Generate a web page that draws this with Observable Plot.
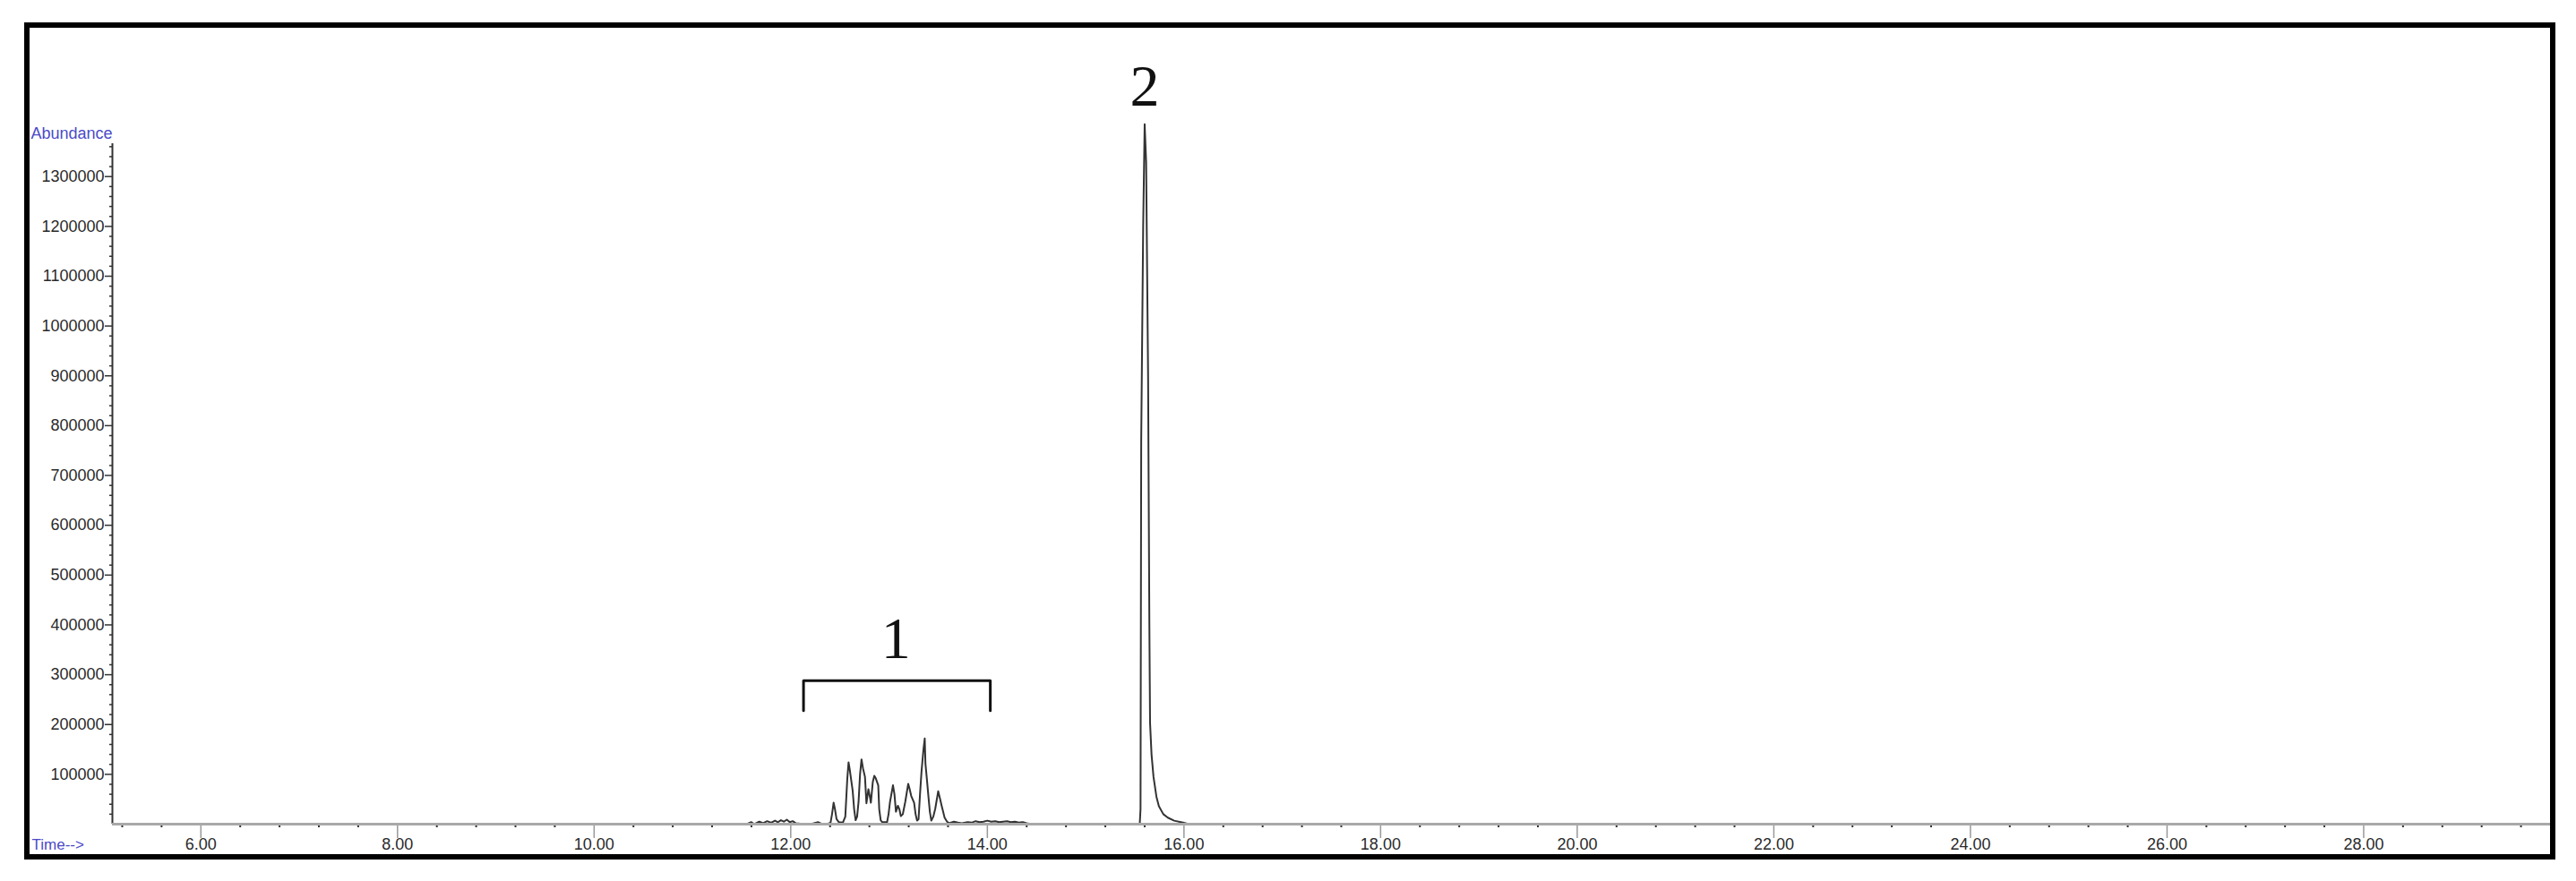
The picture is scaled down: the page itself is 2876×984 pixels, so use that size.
<!DOCTYPE html>
<html>
<head>
<meta charset="utf-8">
<script src="https://cdn.jsdelivr.net/npm/d3@7"></script>
<script src="https://cdn.jsdelivr.net/npm/@observablehq/plot@0.6"></script>
<style>
  html, body { margin: 0; padding: 0; background: #fff; }
  #wrap { position: relative; width: 2876px; height: 984px; overflow: hidden; }
  #chart { position: absolute; left: 0; top: 0; }
  #border { position: absolute; left: 27px; top: 25px; width: 2826px; height: 935px;
            box-sizing: border-box; border: 6px solid #000; pointer-events: none; }
</style>
</head>
<body>
<div id="wrap"><div id="chart"></div><div id="border"></div></div>
<script>
// ---- data (retention time in minutes, abundance) ----
const noiseBeforeTime = [11.55, 11.60, 11.63, 11.68, 11.72, 11.76, 11.80, 11.84, 11.87, 11.90, 11.93, 11.96, 11.99, 12.02, 12.05, 12.10, 12.20, 12.28, 12.32, 12.38];
const noiseBeforeAbund = [0, 4000, 0, 5000, 2000, 6000, 3000, 7000, 4000, 8000, 5000, 9000, 4000, 6000, 2000, 1000, 0, 4000, 0, 1000];

const clusterTime = [12.405, 12.42, 12.436, 12.45, 12.466, 12.49, 12.53, 12.555, 12.575, 12.588, 12.60, 12.63, 12.645, 12.66, 12.675, 12.69, 12.705, 12.72, 12.735, 12.755, 12.77, 12.79, 12.805, 12.815, 12.835, 12.85, 12.865, 12.89, 12.90, 12.915, 12.93, 12.98, 12.995, 13.01, 13.04, 13.055, 13.07, 13.09, 13.105, 13.12, 13.14, 13.165, 13.195, 13.21, 13.225, 13.255, 13.27, 13.285, 13.30, 13.315, 13.33, 13.35, 13.363, 13.37, 13.385, 13.40, 13.415, 13.43, 13.45, 13.47, 13.50, 13.52, 13.535, 13.55, 13.565, 13.59];
const clusterAbund = [3000, 20000, 43000, 30000, 10000, 4000, 3000, 15000, 90000, 124000, 110000, 67000, 30000, 8000, 15000, 45000, 100000, 130000, 112000, 95000, 42000, 70000, 55000, 43000, 85000, 97000, 92000, 78000, 30000, 8000, 4000, 4000, 20000, 45000, 78000, 60000, 25000, 37000, 30000, 16000, 20000, 45000, 81000, 70000, 57000, 43000, 20000, 7000, 10000, 60000, 105000, 150000, 172000, 122000, 90000, 57000, 25000, 7000, 15000, 31000, 66000, 50000, 37000, 25000, 13000, 5000];

const noiseAfterTime = [13.61, 13.66, 13.70, 13.74, 13.80, 13.84, 13.88, 13.92, 13.96, 14.00, 14.04, 14.08, 14.12, 14.16, 14.20, 14.24, 14.28, 14.32, 14.36, 14.40, 14.45, 15.50];
const noiseAfterAbund = [2000, 5000, 3000, 2000, 4000, 3000, 6000, 4000, 5000, 7000, 5000, 6000, 4000, 5000, 6000, 4000, 5000, 3000, 4000, 2000, 0, 0];

const peak2Time = [15.55, 15.558, 15.565, 15.585, 15.60, 15.615, 15.635, 15.648, 15.655, 15.67, 15.69, 15.72, 15.745, 15.79, 15.836, 15.90, 15.99, 16.05];
const peak2Abund = [0, 30000, 770000, 1200000, 1405000, 1330000, 900000, 400000, 203000, 140000, 95000, 55000, 36000, 20000, 13000, 7000, 3000, 0];

// axis ticks
const xMajorTicks = [6, 8, 10, 12, 14, 16, 18, 20, 22, 24, 26, 28];
const yTicks = [100000, 200000, 300000, 400000, 500000, 600000, 700000, 800000, 900000, 1000000, 1100000, 1200000, 1300000];
const xDomain = [5.1, 29.9];
const yDomain = [0, 1366000];

// annotations
const labelText = ["1", "2"];
const labelTime = [13.07, 15.60];
const labelAbund = [333000, 1442000];
const bracketTime = [12.13, 12.13, 14.03, 14.03];
const bracketAbund = [228000, 288000, 288000, 228000];

// ---- build tables ----
const traceT = [...noiseBeforeTime, ...clusterTime, ...noiseAfterTime, ...peak2Time];
const traceA = [...noiseBeforeAbund, ...clusterAbund, ...noiseAfterAbund, ...peak2Abund];
const trace = traceT.map((t, i) => ({t, a: traceA[i]}));
const labels = labelText.map((s, i) => ({s, t: labelTime[i], a: labelAbund[i]}));
const bracket = bracketTime.map((t, i) => ({t, a: bracketAbund[i]}));
const xMinor = d3.range(52, 300, 4).map(v => v / 10).filter(v => !xMajorTicks.includes(v));
const yMinor = d3.range(20000, yDomain[1], 20000).filter(v => !yTicks.includes(v));

const chart = Plot.plot({
  width: 2876,
  height: 984,
  marginLeft: 125,
  marginRight: 29,
  marginTop: 160,
  marginBottom: 64,
  style: {fontFamily: "'Liberation Sans', Arial, sans-serif", fontSize: "18px", color: "#2a2a2a", background: "#fff", overflow: "visible"},
  x: {domain: xDomain, label: null},
  y: {domain: yDomain, label: null},
  marks: [
    Plot.axisY({ticks: yMinor, tickSize: 3, text: null, label: null, stroke: "#333", strokeWidth: 1.5}),
    Plot.axisY({ticks: yTicks, tickSize: 8, tickPadding: 1, tickFormat: d => String(d), label: null, stroke: "#333", strokeWidth: 1.5}),
    Plot.axisX({ticks: xMinor, tickSize: 4, text: null, label: null, stroke: "#333", strokeWidth: 2}),
    Plot.axisX({ticks: xMajorTicks, tickSize: 16, tickPadding: 0, tickFormat: d => d.toFixed(2), label: null, stroke: "#999", strokeWidth: 1.5}),
    Plot.ruleX([xDomain[0]], {y1: yDomain[0], y2: yDomain[1], stroke: "#333", strokeWidth: 2}),
    Plot.line(trace, {x: "t", y: "a", stroke: "#333", strokeWidth: 2, curve: "linear"}),
    Plot.ruleY([0], {x1: xDomain[0], x2: xDomain[1], stroke: "#a8a8a8", strokeWidth: 3}),
    Plot.line(bracket, {x: "t", y: "a", stroke: "#111", strokeWidth: 3}),
    Plot.text(labels, {x: "t", y: "a", text: "s", lineAnchor: "bottom", textAnchor: "middle",
      fontFamily: "'Liberation Serif', 'Times New Roman', serif", fontSize: 66, fill: "#111"}),
    Plot.text(["Abundance"], {frameAnchor: "top-left", text: d => d, textAnchor: "end", lineAnchor: "middle", dy: -11, fill: "#4a4ac8", fontSize: 18}),
    Plot.text(["Time-->"], {frameAnchor: "bottom-left", text: d => d, textAnchor: "start", lineAnchor: "middle", dx: -90, dy: 23, fill: "#4a4ac8", fontSize: 17})
  ]
});
document.getElementById("chart").appendChild(chart);
</script>
</body>
</html>
